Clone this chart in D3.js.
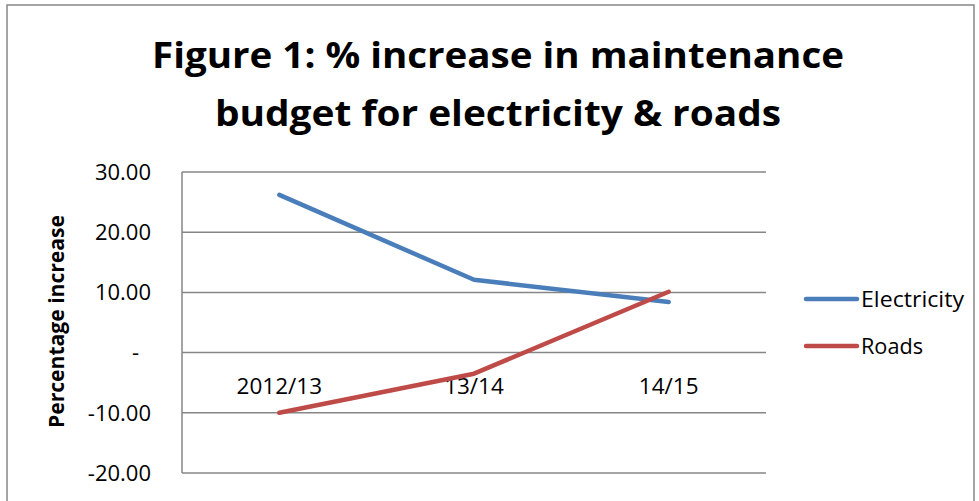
<!DOCTYPE html>
<html><head><meta charset="utf-8">
<script src="https://cdn.jsdelivr.net/npm/d3@7"></script>
<style>body{margin:0;background:#fff;}svg{display:block;}</style>
</head><body>
<svg id="c" width="979" height="501"></svg>
<script>
const categories = ["2012/13", "13/14", "14/15"];
const electricity = [26.2, 12.1, 8.4];
const roads = [-10.0, -3.5, 10.1];
const yTicks = [-20, -10, 0, 10, 20, 30];
const seriesNames = ["Electricity", "Roads"];
const colors = ["#4a7ebb", "#be4b48"];
const titleLines = ["Figure 1: % increase in maintenance", "budget for electricity & roads"];

(function(){
const svg = d3.select("#c");
const font = "'Open Sans', 'Noto Sans', sans-serif";

// outer border
svg.append("rect").attr("x",7).attr("y",5).attr("width",967).attr("height",510)
  .attr("fill","none").attr("stroke","#868686").attr("stroke-width",1.5);

const pL=182, pR=766, pT=172, pB=473;
const x = d3.scaleBand().domain(categories).range([pL,pR]);
const y = d3.scaleLinear().domain([-20,30]).range([pB,pT]);

// gridlines
svg.append("g").selectAll("line").data(yTicks).join("line")
  .attr("x1",pL).attr("x2",pR).attr("y1",d=>y(d)).attr("y2",d=>y(d))
  .attr("stroke","#868686").attr("stroke-width",1.5);
svg.append("line").attr("x1",pL).attr("x2",pL).attr("y1",pT).attr("y2",pB)
  .attr("stroke","#868686").attr("stroke-width",1.5);

// y tick labels
const fmt = d => d===0 ? "-" : (d<0?"-":"") + d3.format(".2f")(Math.abs(d));
svg.append("g").selectAll("text").data(yTicks).join("text")
  .attr("x", d=> d===0 ? 139 : 151).attr("y",d=>y(d)).attr("dy","0.35em")
  .attr("text-anchor","end").attr("font-family",font).attr("font-size",22)
  .attr("fill","#000").text(fmt);

// category labels near zero line
svg.append("g").selectAll("text").data(categories).join("text")
  .attr("x",d=>x(d)+x.bandwidth()/2).attr("y",y(0)+41)
  .attr("text-anchor","middle").attr("font-family",font).attr("font-size",22.5)
  .text(d=>d);

// lines
const line = d3.line().x((d,i)=>x(categories[i])+x.bandwidth()/2).y(d=>y(d));
[electricity, roads].forEach((s,i)=>{
  svg.append("path").datum(s).attr("d",line).attr("fill","none")
    .attr("stroke",colors[i]).attr("stroke-width",4.5).attr("stroke-linecap","round").attr("stroke-linejoin","round");
});

// y axis title
svg.append("text").attr("transform",`translate(64,321.5) rotate(-90)`)
  .attr("text-anchor","middle").attr("font-family",font).attr("font-weight","bold")
  .attr("font-size",22).attr("textLength",213).attr("lengthAdjust","spacingAndGlyphs")
  .text("Percentage increase");

// title
const tW = [692, 566];
svg.append("g").selectAll("text").data(titleLines).join("text")
  .attr("x",498).attr("y",(d,i)=>68+i*58).attr("text-anchor","middle")
  .attr("font-family",font).attr("font-weight","bold").attr("font-size",36.5)
  .attr("textLength",(d,i)=>tW[i]).attr("lengthAdjust","spacingAndGlyphs").text(d=>d);

// legend
const lW = [103, 62];
const lg = svg.append("g").selectAll("g").data(seriesNames).join("g")
  .attr("transform",(d,i)=>`translate(0,${299+i*47})`);
lg.append("line").attr("x1",806).attr("x2",857).attr("stroke",(d,i)=>colors[i])
  .attr("stroke-width",4.5).attr("stroke-linecap","round");
lg.append("text").attr("x",861).attr("dy","0.36em").attr("font-family",font)
  .attr("font-size",22.5).attr("textLength",(d,i)=>lW[i]).attr("lengthAdjust","spacingAndGlyphs").text(d=>d);
})();
</script>
</body></html>
